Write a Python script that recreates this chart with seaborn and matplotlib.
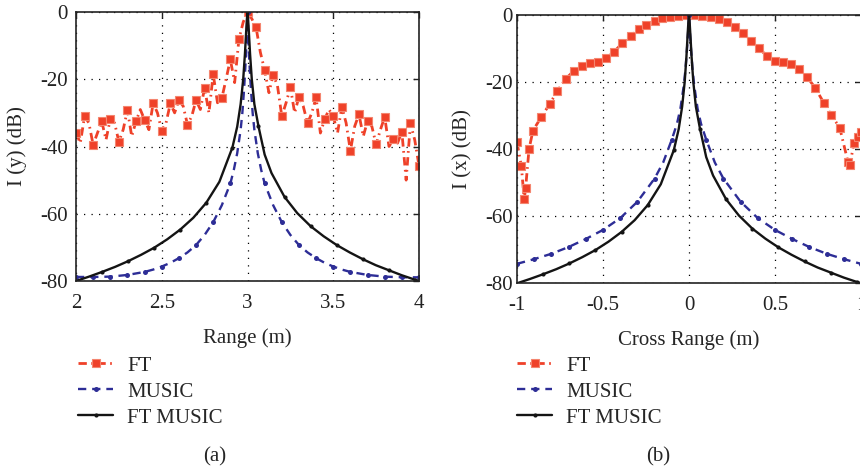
import numpy as np
import matplotlib
matplotlib.use("Agg")
import matplotlib.pyplot as plt
import seaborn as sns

# ---------------- data ----------------
# (a) Range profile
ft_a_x = np.linspace(2.0, 4.0, 81)
ft_a_y = [-35.9, -39, -31, -33, -39.5, -36, -32.5, -38, -31.8, -33,
          -38.6, -35, -29.2, -37, -32.5, -29, -32.1, -35, -27.1, -30,
          -35.3, -33, -27.2, -30, -26.2, -28, -33.5, -31, -26.2, -29,
          -22.6, -30, -18.5, -27, -25.7, -20, -14.1, -21, -8.1, -3,
          0, -2, -4.6, -12, -17.3, -24, -18.6, -22, -31, -27,
          -22.4, -30, -25.2, -28, -33.1, -30, -25.4, -36, -31.9, -29,
          -31, -36, -28.2, -33, -41.3, -34, -30.4, -37, -32.4, -34,
          -39.4, -35, -31.2, -40, -37.9, -39, -35.6, -50, -33.1, -38,
          -45.7]

music_a_x = [2.0, 2.1, 2.2, 2.3, 2.4, 2.45, 2.5, 2.55, 2.6, 2.65, 2.7, 2.75,
             2.8, 2.85, 2.9, 2.92, 2.94, 2.96, 2.97, 2.98, 2.99, 2.995, 3.0,
             3.005, 3.01, 3.02, 3.03, 3.04, 3.06, 3.08, 3.1, 3.15, 3.2, 3.25,
             3.3, 3.35, 3.4, 3.45, 3.5, 3.55, 3.6, 3.7, 3.8, 3.9, 4.0]
music_a_y = [-78.8, -78.8, -78.7, -78.2, -77.3, -76.6, -75.7, -74.6, -73.2,
             -71.5, -69.3, -66.3, -62.5, -57.5, -51, -47, -42, -35, -30, -23,
             -14, -8, 0, -8, -14, -23, -30, -35, -42, -47, -51, -57.5, -62.5,
             -66.3, -69.3, -71.5, -73.2, -74.6, -75.7, -76.6, -77.3, -78.2,
             -78.7, -78.9, -78.9]

ftmusic_x = [2.0, 2.076, 2.152, 2.228, 2.304, 2.38, 2.456, 2.532, 2.608, 2.684,
             2.76, 2.836, 2.912, 2.94, 2.96, 2.975, 2.985, 2.992, 2.996, 3.0,
             3.004, 3.008, 3.015, 3.025, 3.04, 3.064, 3.1, 3.14, 3.216, 3.29,
             3.368, 3.444, 3.52, 3.596, 3.672, 3.748, 3.824, 3.9, 3.976, 4.0]
ftmusic_y = [-80, -78.7, -77.3, -75.8, -74.1, -72.2, -70.1, -67.6, -64.7, -61.2,
             -56.7, -50.5, -40.3, -34.1, -27.4, -20, -12.5, -6, -2.5, 0,
             -2.5, -6, -12.5, -20, -27.4, -34, -42.4, -47.9, -55.0, -59.8,
             -63.7, -66.7, -69.3, -71.5, -73.5, -75.3, -76.8, -78.3, -79.6, -80]

# (b) Cross-range profile
ft_b_x = [-1.0, -0.975, -0.958, -0.95, -0.93, -0.907, -0.858, -0.81, -0.765,
          -0.717, -0.669, -0.622, -0.577, -0.529, -0.48, -0.436, -0.387, -0.34,
          -0.292, -0.248, -0.2, -0.155, -0.108, -0.062, -0.015, 0.033, 0.078,
          0.126, 0.174, 0.222, 0.266, 0.314, 0.358, 0.407, 0.453, 0.5, 0.545,
          0.593, 0.638, 0.686, 0.735, 0.783, 0.827, 0.876, 0.924, 0.935, 0.96,
          0.985, 1.0]
ft_b_y = [-38, -45, -55, -51.7, -40, -34.5, -30.4, -26.6, -22.7,
          -19.1, -16.7, -15.2, -14.5, -14.1, -13, -11, -8.5, -6.2,
          -4.4, -3.1, -1.9, -1.1, -0.6, -0.3, 0, 0, -0.3,
          -0.7, -1.4, -2.1, -3.8, -5.5, -7.7, -10, -12.3, -13.7, -14.1,
          -14.8, -16.2, -18.5, -21.9, -26.2, -29.9, -33.6, -43.8, -44.8, -38.1,
          -36.5, -35]

music_b_x = [-1.0, -0.9, -0.8, -0.7, -0.6, -0.5, -0.4, -0.3, -0.2, -0.15, -0.1,
             -0.07, -0.05, -0.03, -0.02, -0.01, -0.005, 0, 0.005, 0.01, 0.02,
             0.03, 0.05, 0.07, 0.1, 0.15, 0.2, 0.3, 0.4, 0.5, 0.6, 0.7, 0.8,
             0.9, 1.0]
music_b_y = [-74.2, -72.8, -71.2, -69.2, -66.8, -64.1, -60.6, -55.7, -48.8, -44,
             -37.2, -32.5, -28, -21, -16, -9, -5, 0, -5, -9, -16, -21, -28,
             -32.5, -37.2, -44, -48.8, -55.7, -60.6, -64.1, -66.8, -69.2, -71.2,
             -72.8, -74.2]

labels = ["FT", "MUSIC", "FT MUSIC"]
yticks = [0, -20, -40, -60, -80]
xticks_a = [2, 2.5, 3, 3.5, 4]
xticks_b = [-1, -0.5, 0, 0.5, 1]

# ---------------- style ----------------
sns.set_theme(style="white")
plt.rcParams["font.family"] = ["Liberation Serif", "DejaVu Serif"]
plt.rcParams["axes.unicode_minus"] = False
plt.rcParams["legend.numpoints"] = 1

RED = "#ef4129"
BLUE = "#2d2d96"
BLACK = "#141414"
FS = 15

fig = plt.figure(figsize=(8.6, 4.72), dpi=100)
ax1 = fig.add_axes([76 / 860, 1 - 281 / 472, 343 / 860, 269 / 472])
ax2 = fig.add_axes([517 / 860, 1 - 283.3 / 472, 344 / 860, 268.6 / 472])


def mark_tenths(xs):
    return [i for i, v in enumerate(xs) if abs(v * 10 - round(v * 10)) < 1e-6]


black_marks = [2, 4, 6, 8, 10, 12, 25, 28, 30, 32, 34, 36, 38]


def draw(ax, ftx, fty, ft_mark, mx, my, bx, by):
    sns.lineplot(x=ftx, y=fty, ax=ax, color=RED, lw=2.0, sort=False,
                 estimator=None, linestyle=(0, (3, 1.6, 0.6, 1.6)),
                 marker="s", markersize=5.5, markerfacecolor=RED,
                 markeredgecolor="#f4856f", markeredgewidth=0.8,
                 markevery=ft_mark, label=labels[0], legend=False)
    sns.lineplot(x=mx, y=my, ax=ax, color=BLUE, lw=1.7, sort=False,
                 estimator=None, linestyle=(0, (3.5, 2.5)),
                 marker="o", markersize=3.6, markeredgewidth=0,
                 markevery=mark_tenths(mx), label=labels[1], legend=False)
    sns.lineplot(x=bx, y=by, ax=ax, color=BLACK, lw=1.7, sort=False,
                 estimator=None, linestyle="-",
                 marker="o", markersize=3.0, markeredgewidth=0,
                 markevery=black_marks, label=labels[2], legend=False)
    ax.set_ylim(-80, 0)
    ax.set_yticks(yticks)
    ax.grid(True, color="black", linestyle=(0, (1, 5)), linewidth=0.9)
    for s in ax.spines.values():
        s.set_visible(True)
        s.set_color("#222222")
        s.set_linewidth(1.2)
    ax.tick_params(direction="in", length=4, width=1, top=True, right=True,
                   labelsize=FS, colors="#222222")
    ax.tick_params(axis="x", pad=9)


draw(ax1, ft_a_x, ft_a_y, (0, 2), music_a_x, music_a_y, ftmusic_x, ftmusic_y)
ftmusic_bx = [v - 3 for v in ftmusic_x]
draw(ax2, ft_b_x, ft_b_y, None, music_b_x, music_b_y, ftmusic_bx, ftmusic_y)

ax1.set_xlim(2, 4)
ax1.set_xticks(xticks_a)
ax1.set_xticklabels(["2", "2.5", "3", "3.5", "4"])
ax1.tick_params(axis="y", pad=6)
ax1.set_xlabel("Range (m)", fontsize=FS, labelpad=11)
ax1.set_ylabel("I (y) (dB)", fontsize=FS, labelpad=9)

ax2.set_xlim(-1, 1)
ax2.set_xticks(xticks_b)
ax2.set_xticklabels(["-1", "-0.5", "0", "0.5", "1"])
ax2.tick_params(axis="y", pad=3)
ax2.set_xlabel("Cross Range (m)", fontsize=FS, labelpad=11)
ax2.set_ylabel("I (x) (dB)", fontsize=FS, labelpad=9)

for ax, lx in ((ax1, 78 / 860), (ax2, 517 / 860)):
    handles = ax.get_lines()[:3]
    fig.legend(handles=handles, labels=labels, loc="upper left",
               bbox_to_anchor=(lx, 1 - 356 / 472), frameon=False,
               fontsize=FS, handlelength=1.7, handletextpad=0.65,
               labelspacing=0.31, borderpad=0, borderaxespad=0)

fig.text(215 / 860, 1 - 457 / 472, "(a)", ha="center", va="center", fontsize=FS)
fig.text(658 / 860, 1 - 457 / 472, "(b)", ha="center", va="center", fontsize=FS)

fig.savefig("out.png", dpi=100, facecolor="white")
